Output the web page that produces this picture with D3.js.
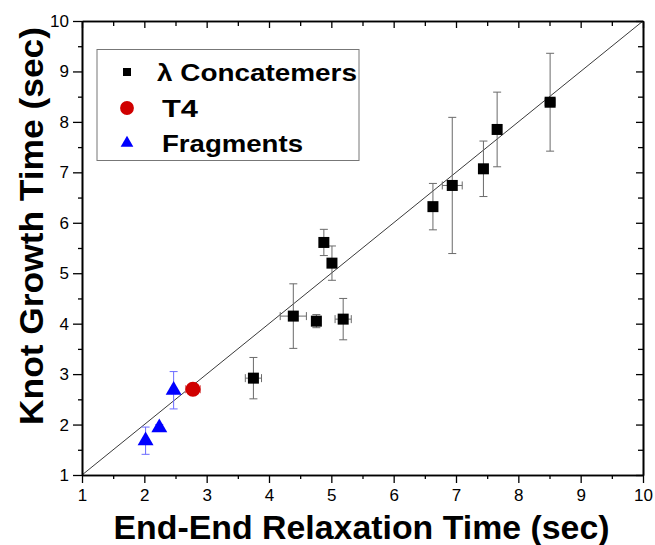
<!DOCTYPE html>
<html>
<head>
<meta charset="utf-8">
<script src="https://cdn.jsdelivr.net/npm/d3@7"></script>
<style>
  html, body { margin: 0; padding: 0; background: #fff; }
  svg { display: block; font-family: "Liberation Sans", Arial, sans-serif; }
</style>
</head>
<body>
<svg id="chart" width="655" height="545"></svg>
<script>
// λ concatemers: relaxation time (x), knot growth time (y) with errors
const lambdaX    = [3.75, 4.39, 4.76, 5.19, 5.01, 4.88, 6.63, 6.94, 7.44, 7.66, 8.51];
const lambdaY    = [2.92, 4.15, 4.05, 4.09, 5.20, 5.61, 6.32, 6.74, 7.07, 7.85, 8.39];
const lambdaXErr = [0.13, 0.21, 0.07, 0.13, 0.04, 0.04, 0.04, 0.16, 0.04, 0.04, 0.08];
const lambdaYErr = [0.41, 0.64, 0.13, 0.41, 0.34, 0.26, 0.46, 1.35, 0.55, 0.74, 0.97];

// T4
const t4X    = [2.78];
const t4Y    = [2.70];
const t4XErr = [0.12];
const t4YErr = [0.04];

// Fragments
const fragX    = [2.02, 2.24, 2.47];
const fragY    = [1.68, 1.94, 2.68];
const fragXErr = [0.03, 0.03, 0.03];
const fragYErr = [0.27, 0.06, 0.37];

const axisMin = 1, axisMax = 10;
const majorTicks = [1, 2, 3, 4, 5, 6, 7, 8, 9, 10];
const minorTicks = [1.5, 2.5, 3.5, 4.5, 5.5, 6.5, 7.5, 8.5, 9.5];

const seriesNames = ["λ Concatemers", "T4", "Fragments"];
const xTitle = "End-End Relaxation Time (sec)";
const yTitle = "Knot Growth Time (sec)";

const svg = d3.select("#chart");
const plotLeft = 82, plotRight = 643, plotTop = 21, plotBottom = 475;

const x = d3.scaleLinear().domain([axisMin, axisMax]).range([plotLeft, plotRight]);
const y = d3.scaleLinear().domain([axisMin, axisMax]).range([plotBottom, plotTop]);

// Identity reference line y = x
svg.append("line")
  .attr("x1", x(axisMin)).attr("y1", y(axisMin))
  .attr("x2", x(axisMax)).attr("y2", y(axisMax))
  .attr("stroke", "#3a3a3a").attr("stroke-width", 1);

// Axes: outward labelled ticks on bottom/left, inward ticks on top/right
function drawAxis(axisGen, transform, labelled) {
  const g = svg.append("g").attr("transform", transform).call(axisGen);
  g.select(".domain").attr("stroke", "#000").attr("stroke-width", 1.6);
  g.selectAll(".tick line").attr("stroke", "#000").attr("stroke-width", 1.3);
  if (labelled) {
    g.selectAll(".tick text").attr("font-size", 17).attr("fill", "#000")
      .attr("font-family", "Liberation Sans, Arial, sans-serif");
  } else {
    g.selectAll(".tick text").remove();
  }
  return g;
}

const fmt = d3.format("d");
// minor ticks
drawAxis(d3.axisBottom(x).tickValues(minorTicks).tickSize(4).tickSizeOuter(0), `translate(0,${plotBottom})`, false);
drawAxis(d3.axisLeft(y).tickValues(minorTicks).tickSize(4).tickSizeOuter(0), `translate(${plotLeft},0)`, false);
drawAxis(d3.axisTop(x).tickValues(minorTicks).tickSize(-5).tickSizeOuter(0), `translate(0,${plotTop})`, false);
drawAxis(d3.axisRight(y).tickValues(minorTicks).tickSize(-5).tickSizeOuter(0), `translate(${plotRight},0)`, false);
// major ticks
drawAxis(d3.axisBottom(x).tickValues(majorTicks).tickFormat(fmt).tickSize(8).tickPadding(6).tickSizeOuter(0), `translate(0,${plotBottom})`, true);
drawAxis(d3.axisLeft(y).tickValues(majorTicks).tickFormat(fmt).tickSize(9).tickPadding(4).tickSizeOuter(0), `translate(${plotLeft},0)`, true);
drawAxis(d3.axisTop(x).tickValues(majorTicks).tickSize(-7).tickSizeOuter(0), `translate(0,${plotTop})`, false);
drawAxis(d3.axisRight(y).tickValues(majorTicks).tickSize(-7).tickSizeOuter(0), `translate(${plotRight},0)`, false);

// Axis titles
svg.append("text")
  .attr("x", (plotLeft + plotRight) / 2 - 1).attr("y", 539)
  .attr("text-anchor", "middle")
  .attr("font-size", 33).attr("font-weight", "bold")
  .attr("textLength", 496).attr("lengthAdjust", "spacingAndGlyphs")
  .text(xTitle);

svg.append("text")
  .attr("transform", `translate(43,${(plotTop + plotBottom) / 2 - 22}) rotate(-90)`)
  .attr("text-anchor", "middle")
  .attr("font-size", 34).attr("font-weight", "bold")
  .attr("textLength", 398).attr("lengthAdjust", "spacingAndGlyphs")
  .text(yTitle);

// Error bars
function errorBars(xs, ys, xe, ye, color) {
  const g = svg.append("g").attr("stroke", color).attr("stroke-width", 1).attr("fill", "none");
  const cap = 4;
  xs.forEach((xv, i) => {
    const cx = x(xv), cy = y(ys[i]);
    const y1 = y(ys[i] + ye[i]), y2 = y(ys[i] - ye[i]);
    const x1 = x(xv - xe[i]), x2 = x(xv + xe[i]);
    g.append("line").attr("x1", cx).attr("x2", cx).attr("y1", y1).attr("y2", y2);
    g.append("line").attr("x1", cx - cap).attr("x2", cx + cap).attr("y1", y1).attr("y2", y1);
    g.append("line").attr("x1", cx - cap).attr("x2", cx + cap).attr("y1", y2).attr("y2", y2);
    g.append("line").attr("x1", x1).attr("x2", x2).attr("y1", cy).attr("y2", cy);
    g.append("line").attr("x1", x1).attr("x2", x1).attr("y1", cy - cap).attr("y2", cy + cap);
    g.append("line").attr("x1", x2).attr("x2", x2).attr("y1", cy - cap).attr("y2", cy + cap);
  });
}

errorBars(lambdaX, lambdaY, lambdaXErr, lambdaYErr, "#6a6a6a");
errorBars(t4X, t4Y, t4XErr, t4YErr, "#e07070");
errorBars(fragX, fragY, fragXErr, fragYErr, "#6b6bff");

const squareSym = d3.symbol().type(d3.symbolSquare);
const circleSym = d3.symbol().type(d3.symbolCircle);
const triSym = d3.symbol().type(d3.symbolTriangle);

// Markers
svg.append("g").selectAll("path").data(lambdaX).join("path")
  .attr("d", squareSym.size(121)())
  .attr("transform", (d, i) => `translate(${x(d)},${y(lambdaY[i])})`)
  .attr("fill", "#000");

svg.append("g").selectAll("path").data(t4X).join("path")
  .attr("d", circleSym.size(180)())
  .attr("transform", (d, i) => `translate(${x(d)},${y(t4Y[i])})`)
  .attr("fill", "#d00000");

svg.append("g").selectAll("path").data(fragX).join("path")
  .attr("d", triSym.size(110)())
  .attr("transform", (d, i) => `translate(${x(d)},${y(fragY[i])})`)
  .attr("fill", "#0000ff");

// Legend
const legend = svg.append("g");
legend.append("rect")
  .attr("x", 97).attr("y", 49.5).attr("width", 262).attr("height", 111)
  .attr("fill", "#fff").attr("stroke", "#777").attr("stroke-width", 1);

const legendRows = [
  { name: seriesNames[0], sym: squareSym.size(64)(), color: "#000", dy: 72, tx: 157, len: 200 },
  { name: seriesNames[1], sym: circleSym.size(150)(), color: "#d00000", dy: 108, tx: 162, len: 36 },
  { name: seriesNames[2], sym: triSym.size(70)(), color: "#0000ff", dy: 143, tx: 162, len: 141 }
];
legendRows.forEach(r => {
  legend.append("path").attr("d", r.sym)
    .attr("transform", `translate(127,${r.dy})`).attr("fill", r.color);
  legend.append("text")
    .attr("x", r.tx).attr("y", r.dy + 8.5)
    .attr("font-size", 23).attr("font-weight", "bold")
    .attr("textLength", r.len).attr("lengthAdjust", "spacingAndGlyphs")
    .text(r.name);
});
</script>
</body>
</html>
